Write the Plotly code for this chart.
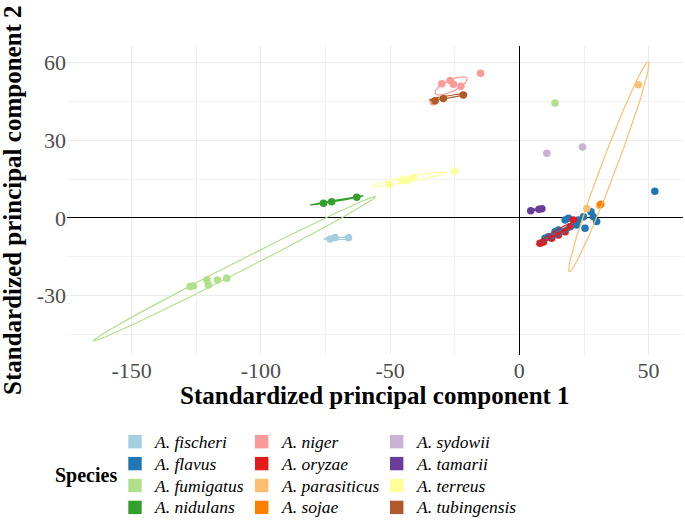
import numpy as np
import plotly.graph_objects as go

# ---------------- data ----------------
species = ["A. fischeri", "A. flavus", "A. fumigatus", "A. nidulans",
           "A. niger", "A. oryzae", "A. parasiticus", "A. sojae",
           "A. sydowii", "A. tamarii", "A. terreus", "A. tubingensis"]
colors = ["#A6CEE3", "#1F78B4", "#B2DF8A", "#33A02C", "#FB9A99", "#E31A1C",
          "#FDBF6F", "#FF7F00", "#CAB2D6", "#6A3D9A", "#FFFF99", "#B15928"]

point_species = (["A. fischeri"] * 3 + ["A. flavus"] * 14 + ["A. fumigatus"] * 7 +
                 ["A. nidulans"] * 3 + ["A. niger"] * 6 + ["A. oryzae"] * 7 +
                 ["A. parasiticus"] * 3 + ["A. sojae"] * 1 + ["A. sydowii"] * 2 +
                 ["A. tamarii"] * 3 + ["A. terreus"] * 5 + ["A. tubingensis"] * 3)
pc1 = [-73.2, -71.3, -66.1,
       52.4, 17.7, 19.0, 22.8, 24.8, 27.7, 28.6, 29.9, 25.4, 22.2, 15.1, 13.8, 11.2, 9.9,
       -127.4, -126.1, -120.9, -120.3, -116.8, -113.2, 13.8,
       -75.8, -72.6, -62.9,
       -30.0, -26.8, -25.5, -22.6, -15.0, -33.3,
       8.0, 9.3, 12.5, 15.1, 17.7, 20.9, 19.6,
       46.0, 26.1, 31.0,
       31.5,
       10.6, 24.4,
       4.4, 7.6, 8.7,
       -50.3, -45.4, -43.6, -41.0, -25.1,
       -32.6, -29.4, -21.7]
pc2 = [-8.1, -7.5, -7.6,
       10.3, -0.8, -0.1, -0.8, 0.5, 2.4, 0.5, -1.4, -4.0, -2.7, -4.6, -5.3, -7.2, -7.8,
       -26.5, -26.3, -23.9, -25.9, -23.9, -23.3, 44.4,
       5.7, 6.3, 8.0,
       51.8, 53.1, 51.6, 50.9, 55.9, 44.9,
       -9.8, -9.3, -7.8, -6.6, -5.3, -0.8, -3.4,
       51.4, 3.7, 4.8,
       5.3,
       25.0, 27.4,
       2.8, 3.4, 3.6,
       13.0, 14.7, 14.4, 15.7, 18.0,
       45.3, 46.1, 47.5]

# 95% ellipse parameters (center, semi-axes, rotation in degrees)
ell_species = ["A. fischeri", "A. flavus", "A. fumigatus", "A. nidulans", "A. niger",
               "A. oryzae", "A. parasiticus", "A. tamarii", "A. terreus", "A. tubingensis"]
ell_cx = [-70.3, 15.7, -110.2, -70.65, -26.45, 13.5, 34.6, 6.65, -42.6, -27.45]
ell_cy = [-7.95, -5.6, -19.6, 6.75, 51.0, -6.1, 19.8, 3.3, 15.0, 46.75]
ell_a = [5.5, 9.4, 61.3, 10.5, 6.8, 7.9, 43.3, 3.3, 14.3, 7.4]
ell_b = [0.45, 0.9, 2.0, 0.25, 2.2, 0.8, 2.9, 0.3, 1.0, 0.5]
ell_angle = [1.5, 26.6, 27.0, 9.6, 25.2, 31.1, 69.3, 10.0, 10.4, 8.9]

x_ticks = [-150, -100, -50, 0, 50]
y_ticks = [-30, 0, 30, 60]

# ---------------- figure ----------------
FONT = "Liberation Serif"
W, H = 685, 522
ML, MR, MT, MB = 67, 2, 46, 167
PW, PH = W - ML - MR, H - MT - MB


def px_to_paper(px, py):
    return (px - ML) / PW, (H - MB - py) / PH


color_of = dict(zip(species, colors))
fig = go.Figure()

pc1_arr = np.array(pc1)
pc2_arr = np.array(pc2)
sp_arr = np.array(point_species)

for sp in species:
    m = sp_arr == sp
    fig.add_trace(go.Scatter(x=pc1_arr[m], y=pc2_arr[m], mode="markers",
                             marker=dict(color=color_of[sp], size=7.5, line=dict(width=0)),
                             showlegend=False, hoverinfo="skip"))

t = np.linspace(0, 2 * np.pi, 200)
for sp, cx, cy, a, b, ang in zip(ell_species, ell_cx, ell_cy, ell_a, ell_b, ell_angle):
    th = np.deg2rad(ang)
    ex = cx + a * np.cos(t) * np.cos(th) - b * np.sin(t) * np.sin(th)
    ey = cy + a * np.cos(t) * np.sin(th) + b * np.sin(t) * np.cos(th)
    fig.add_trace(go.Scatter(x=ex, y=ey, mode="lines",
                             line=dict(color=color_of[sp], width=1.2),
                             showlegend=False, hoverinfo="skip"))

# manual legend (3 columns x 4 rows, column-major like ggplot)
key_cx = [135, 261.7, 396.7]
text_x0 = [152, 278.5, 413.5]
row_y = [441.7, 463.6, 485.5, 507.4]
key_half = 6.7
shapes = []
annotations = []
for i, sp in enumerate(species):
    c, r = i // 4, i % 4
    x0, y0 = px_to_paper(key_cx[c] - key_half, row_y[r] + key_half)
    x1, y1 = px_to_paper(key_cx[c] + key_half, row_y[r] - key_half)
    shapes.append(dict(type="rect", xref="paper", yref="paper", x0=x0, x1=x1, y0=y0, y1=y1,
                       fillcolor=color_of[sp], line=dict(width=0), layer="above"))
    tx, ty = px_to_paper(text_x0[c], row_y[r])
    annotations.append(dict(text=sp, xref="paper", yref="paper", x=tx, y=ty,
                            xanchor="left", yanchor="middle", showarrow=False,
                            font=dict(family=FONT, size=17.5, color="black", style="italic")))

sx, sy = px_to_paper(86, 475)
annotations.append(dict(text="<b>Species</b>", xref="paper", yref="paper", x=sx, y=sy,
                        showarrow=False, xanchor="center", yanchor="middle",
                        font=dict(family=FONT, size=20, color="black")))
xtx, xty = px_to_paper(ML + PW / 2, 395.5)
annotations.append(dict(text="<b>Standardized principal component 1</b>", xref="paper",
                        yref="paper", x=xtx, y=xty, showarrow=False, xanchor="center",
                        yanchor="middle", font=dict(family=FONT, size=25, color="black")))
ytx, yty = px_to_paper(12.5, MT + PH / 2)
annotations.append(dict(text="<b>Standardized principal component 2</b>", xref="paper",
                        yref="paper", x=ytx, y=yty, showarrow=False, xanchor="center",
                        yanchor="middle", textangle=-90,
                        font=dict(family=FONT, size=25, color="black")))

fig.update_layout(
    width=W, height=H,
    margin=dict(l=ML, r=MR, t=MT, b=MB, autoexpand=False),
    paper_bgcolor="white", plot_bgcolor="white",
    showlegend=False,
    xaxis=dict(range=[-175, 63.3], tickvals=x_ticks, ticktext=[str(v) for v in x_ticks],
               showgrid=True, gridcolor="#EBEBEB", gridwidth=1.1,
               minor=dict(dtick=25, tick0=0, showgrid=True, gridcolor="#F1F1F1", gridwidth=0.8),
               zeroline=True, zerolinecolor="black", zerolinewidth=1.3,
               showline=False, ticks="", automargin=False,
               tickfont=dict(family=FONT, size=22, color="#4D4D4D")),
    yaxis=dict(range=[-52.9, 66.4], tickvals=y_ticks, ticktext=[str(v) for v in y_ticks],
               showgrid=True, gridcolor="#EBEBEB", gridwidth=1.1,
               minor=dict(dtick=15, tick0=0, showgrid=True, gridcolor="#F1F1F1", gridwidth=0.8),
               zeroline=True, zerolinecolor="black", zerolinewidth=1.3,
               showline=False, ticks="", automargin=False,
               tickfont=dict(family=FONT, size=22, color="#4D4D4D")),
    shapes=shapes,
    annotations=annotations,
)

fig.write_html("out.html", config={"displayModeBar": False},
               post_script="document.body.style.margin='0';document.body.style.overflow='hidden';")
